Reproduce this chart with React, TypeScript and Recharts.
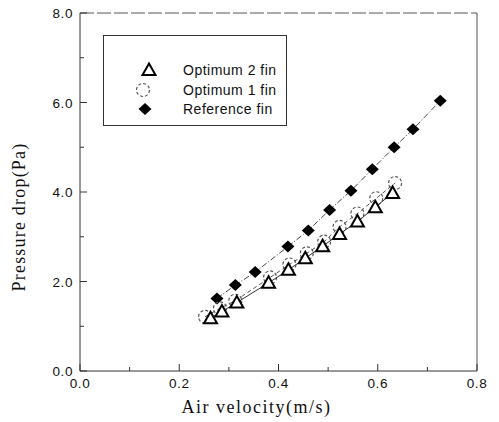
import { ComposedChart, Legend, ReferenceLine, Scatter, XAxis, YAxis } from "recharts";

// values
const opt2Velocity = [0.263, 0.286, 0.316, 0.38, 0.42, 0.454, 0.489, 0.523, 0.559, 0.595, 0.63];
const opt2Drop = [1.18, 1.33, 1.53, 1.97, 2.26, 2.52, 2.79, 3.06, 3.34, 3.66, 3.98];

const opt1Velocity = [0.252, 0.282, 0.313, 0.383, 0.422, 0.457, 0.492, 0.523, 0.559, 0.597, 0.635];
const opt1Drop = [1.21, 1.4, 1.57, 2.09, 2.38, 2.63, 2.89, 3.22, 3.52, 3.86, 4.2];

const refVelocity = [0.276, 0.313, 0.353, 0.419, 0.46, 0.503, 0.546, 0.589, 0.633, 0.671, 0.726];
const refDrop = [1.62, 1.92, 2.21, 2.78, 3.14, 3.6, 4.03, 4.51, 5.0, 5.4, 6.04];

const seriesNames = ["Optimum 2 fin", "Optimum 1 fin", "Reference fin"];
const xTicks = [0, 0.1, 0.2, 0.3, 0.4, 0.5, 0.6, 0.7, 0.8];
const yTicks = [0, 1, 2, 3, 4, 5, 6, 7, 8];

const zip = (xs: number[], ys: number[]) => xs.map((x, i) => ({ x, y: ys[i] }));
const opt2Data = zip(opt2Velocity, opt2Drop);
const opt1Data = zip(opt1Velocity, opt1Drop);
const refData = zip(refVelocity, refDrop);

const sans = "'Liberation Sans', Arial, sans-serif";
const serif = "'Liberation Serif', 'Times New Roman', serif";

const Triangle = ({ cx, cy }: any) => (
  <path d={`M${cx},${cy - 6.5} L${cx + 6.5},${cy + 5} L${cx - 6.5},${cy + 5} Z`} fill="#fff" stroke="#000" strokeWidth={2} />
);
const Ring = ({ cx, cy }: any) => (
  <circle cx={cx} cy={cy} r={6.5} fill="none" stroke="#555" strokeWidth={1.2} strokeDasharray="3 2" />
);
const Diamond = ({ cx, cy }: any) => (
  <path d={`M${cx},${cy - 6} L${cx + 6.5},${cy} L${cx},${cy + 6} L${cx - 6.5},${cy} Z`} fill="#000" />
);

function XTick({ x, y, payload }: any) {
  const v = payload.value;
  const major = Math.round(v * 10) % 2 === 0;
  return (
    <g>
      <line x1={x} y1={y} x2={x} y2={y - (major ? 7 : 4)} stroke="#333" />
      {major && (
        <text x={x} y={y + 17} textAnchor="middle" fontFamily={sans} fontSize={13.5} letterSpacing={0.6} fill="#111">
          {v.toFixed(1)}
        </text>
      )}
    </g>
  );
}

function YTick({ x, y, payload }: any) {
  const v = payload.value;
  const major = v % 2 === 0;
  return (
    <g>
      <line x1={x} y1={y} x2={x + (major ? 7 : 4)} y2={y} stroke="#333" />
      {major && (
        <text x={x - 7} y={y + 5} textAnchor="end" fontFamily={sans} fontSize={13.5} letterSpacing={0.6} fill="#111">
          {v.toFixed(1)}
        </text>
      )}
    </g>
  );
}

function LegendBox() {
  const icons = [<Triangle cx={46} cy={35} />, <Ring cx={40} cy={55} />, <Diamond cx={42} cy={74} />];
  return (
    <svg width={184} height={91} style={{ display: "block" }}>
      <rect x={0.5} y={0.5} width={183} height={90} fill="#fff" stroke="#333" />
      {seriesNames.map((name, i) => (
        <g key={name}>
          {icons[i]}
          <text x={80} y={40 + i * 19.5} fontFamily={sans} fontSize={14} letterSpacing={0.5} fill="#111">
            {name}
          </text>
        </g>
      ))}
    </svg>
  );
}

export default function App() {
  return (
    <div style={{ position: "absolute", left: 0, top: 0, background: "#fff" }}>
      <ComposedChart width={499} height={422} margin={{ top: 13, right: 22, left: 0, bottom: 0 }}>
        <XAxis
          type="number"
          dataKey="x"
          domain={[0, 0.8]}
          ticks={xTicks}
          interval={0}
          height={51}
          tickSize={0}
          tickMargin={0}
          tickLine={false}
          tick={<XTick />}
          axisLine={{ stroke: "#333" }}
          label={{ value: "Air velocity(m/s)", position: "insideBottom", dx: -22, dy: -4, fontFamily: serif, fontSize: 18, letterSpacing: 1.5, fill: "#111" }}
        />
        <YAxis
          type="number"
          dataKey="y"
          domain={[0, 8]}
          ticks={yTicks}
          interval={0}
          width={80}
          tickSize={0}
          tickMargin={0}
          tickLine={false}
          tick={<YTick />}
          axisLine={{ stroke: "#333" }}
          label={{ value: "Pressure drop(Pa)", angle: -90, position: "insideLeft", dx: 14, dy: 25, fontFamily: serif, fontSize: 18, letterSpacing: 1.2, fill: "#111", style: { textAnchor: "middle" } }}
        />
        <ReferenceLine y={8} stroke="#555" strokeDasharray="14 3" />
        <ReferenceLine x={0.8} stroke="#555" />
        <Legend
          layout="vertical"
          align="center"
          verticalAlign="middle"
          wrapperStyle={{ left: 103, top: 35, width: 184, height: 91 }}
          content={() => <LegendBox />}
        />
        <Scatter
          name={seriesNames[2]}
          data={refData}
          line={{ stroke: "#444", strokeWidth: 1, strokeDasharray: "6 2 1 2" }}
          lineType="joint"
          shape={<Diamond />}
          isAnimationActive={false}
        />
        <Scatter
          name={seriesNames[1]}
          data={opt1Data}
          line={{ stroke: "#555", strokeWidth: 1, strokeDasharray: "4 3" }}
          lineType="joint"
          shape={<Ring />}
          isAnimationActive={false}
        />
        <Scatter
          name={seriesNames[0]}
          data={opt2Data}
          line={{ stroke: "#333", strokeWidth: 1 }}
          lineType="joint"
          shape={<Triangle />}
          isAnimationActive={false}
        />
      </ComposedChart>
    </div>
  );
}
